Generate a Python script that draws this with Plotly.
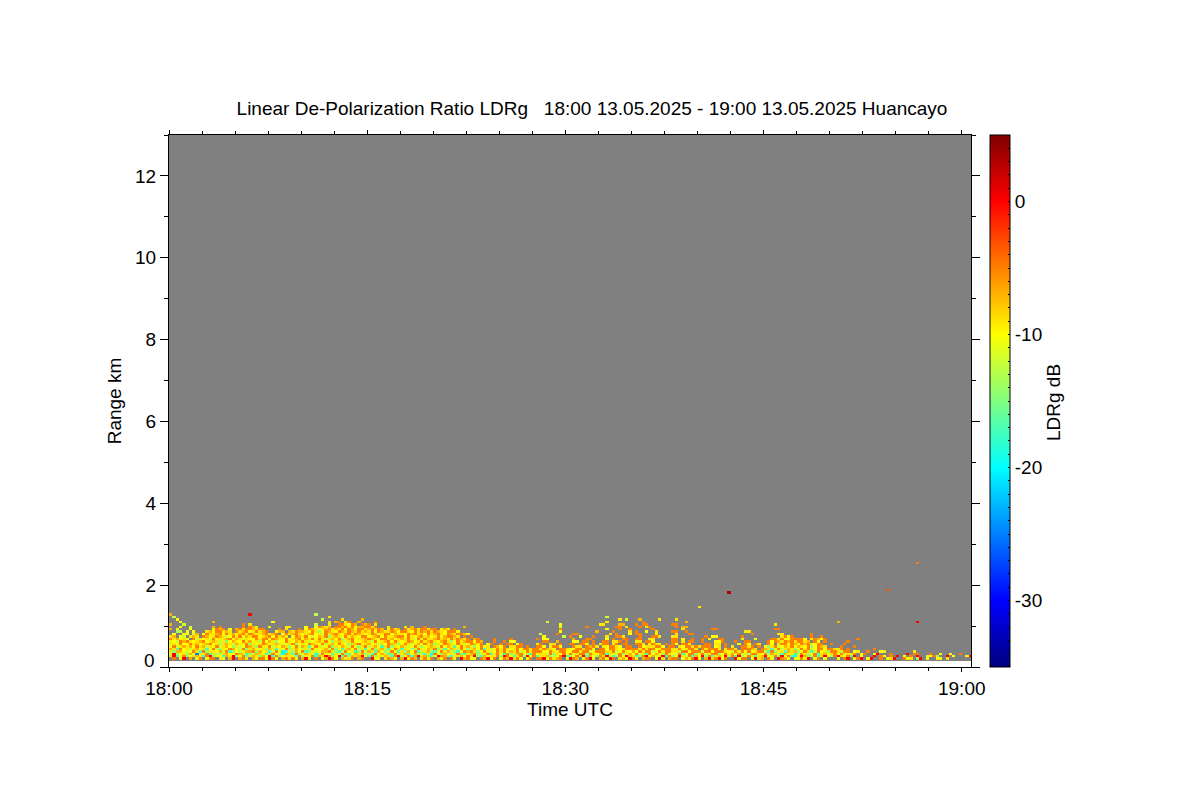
import numpy as np
import plotly.graph_objects as go

TITLE = "Linear De-Polarization Ratio LDRg\u00a0\u00a0\u00a018:00 13.05.2025 - 19:00 13.05.2025 Huancayo"
CB_TITLE = "LDRg dB"
X_TICK_MIN = [0, 15, 30, 45, 60]
X_TICK_TEXT = ["18:00", "18:15", "18:30", "18:45", "19:00"]
Y_TICKS = [0, 2, 4, 6, 8, 10, 12]
Y_TICK_TEXT = ["", "2", "4", "6", "8", "10", "12"]
CB_LABELS = {0: "0", -10: "-10", -20: "-20", -30: "-30"}

COL_MIN = 0.25
GATE_KM = 0.06
FIRST_GATE_KM = 0.20
N_COLS = 243
N_GATES = 42

# LDRg class, in dB
LEVELS = {"b": -25, "c": -20, "t": -17, "g": -14, "l": -12, "y": -10, "Y": -9, "o": -7, "O": -5, "r": -1.5, "R": 0}

# one string per range gate, top gate first, time runs left to right in groups of 10 profiles
GATES_TOP_DOWN = [
"o......... .......... ....R..... .......... .......... .......... .......... .......... .......... .......... .......... .......... .......... .......... .......... .......... .......... .......... .......... .......... .......... .......... .......... ..........",
".l........ .......... .......... .......... ........Y. .......... .......... .......... .......... .......... .......... .......... .......... ..l....... .......... .......... .......... .......... .......... .......... .......... .......... .......... ..........",
"..y....... .......... .......... .......... ......l... ..Y.....o. .......... .......... .......... .......... .......... .......... .......... ......Y.l. ..o.....Y. ...Y...... .......... .......... .......... .......... .......... .......... .......... ..........",
"...y...... ...o...... .......... .y........ ........Y. oO.YO..o.. ..O....... .......... .......... .......... .......... ....l..... .......... ..Y....... ...O...... ......o... .......... .......... .......... .......... .......... .......... .......... ..........",
"o...l..... .......... ..O.Y..... .......... ....l...Y. .OOYyOo.Oo O.Y....... .......... .......... .......... .......... ........y. .......... YY....oo.. .O.OO..... ..OO...... .......... .......... ...Y...... .......... .......... .......... .......... ..........",
"...y..l... ...o.O.... ..O.OoY... Y....YY... .y..yOoYo. OOoOYOyooO OYO...Y... .Y.o...O.. .........o .......... .......... ........l. ......O... .....OO.Y. ..O.YO.... ...O.oo... .......... .......... .......... .......... .......... .......... .......... ..........",
"o.y...y... ...YOoO.y. oOYOOoYOO. ...O.Y...O .yOoYyYoOY oYOyOoyOOY oOYOo.YOYo .OYoOYOOYO O.YoY.O... .......... .......... ........O. .......... ..y...O..O ......O... .....Y.... ....OO.... .......... ...OO..... .......... .......... .......... .......... ..........",
"..gl.y.y.. .YoyOOYoY. OYoOyYOYoO ..yoo.oYOo oYyOYgyOoY yOoYOoYOYo YOyOoYYOoy OOYyOYOoOY OoYyOOOy.. .......... .......... ........y. .........o ....O....Y .O..y..Y.. ..OO..O... .......... ....YY.... .......... .......... .......... .......... .......... ..........",
".y..yy.lo. yOYYoOyOYo yoOYOoyYoO YoO.yOYoOY yYoOyYlOYo OYyoOYOoYy YOoyYOOyoY YyOoOYoyOY oOYyOoYOOo y......... .......... ..l....O.. ..OO...... ...Y.O...y .OO....Y.. ...Y...OO. .......... ......O... ....YY.... ....O..... .......... .......... .......... ..........",
"Yo.yl.YoY. OoyYOoYlyO YOyoYOOyYo OyOYoY.yOo YOylyoYOgY oYyOYoYyOO yYoOyOYYoO OyOYyoOYoy YOyoOOoY.O .O........ .......... ...y.....l .O..y...O. ..Y..OOY.. ..O...OOY. ..YY...... ..O.yy.... ...O...... .....YOyO. ....O..O.. .......... .......... .......... ..........",
"OYoyYy.OlY yYlOyYYoOy oYlYyyOYOO yOoYyOyYoO yoYOyOYlYo yOgYoOyYYo OoYyOOYoyY oYOYlOyOYY oOYoyOYOoY O.oO....O. ...O...... .O.yy..... ..o...OO.. ..y.O..OO. .OO..YY... ..OO.y..O. .O.y..OO.. ...Y...y.. ..OOYOyyOO OOy.YOoyO. ........O. .......... .......... ..........",
"YylOoOYyYo OyYoYlYgyo YyOYoyYlOy oYgyyOYyoY OYlyYoYOyg YoYlYOyyYo YlOyYoOyOY yYOoyYOYoO YyoOYgyOYo OOyOo...O. .O.yy..... ...OO..o.. ..yy.OO.O. .OO.YYO.O. .YY.OOy... ..OO.Y.OO. .O...yyO.. .O..OO.... .OyOoYOoOY OOYo.Oy.O. .....O.... .......... .......... ..........",
"lYyOyyOYoy YoOyYgYoYl oYyOgYyYOo yYoYlyYOgy YyOoYyOlYo yOYygYoOYY oyYlYyOoYg yOYlYoyOYo gYyOoYyOYl yOoYO.yO.. O.OO.yO... .YO..YY.O. .OO.OOY.O. YOO.YO.OO. .OOY.YOYY. O.Oy.OOY.. ..OO.YY.O. ..y.Oy.OY. .Oy.YOOyOo yOoOYyOO.. O...O..... .......... .......... ..........",
"yOlYoYoyOY olYyOlYoyg YlyOoYgOYy OlYyoYgyOl oYtyOYlyOg YyoYlOygYO lYoytYOgYy oYlyOYgyYo YlOyoYtyOY oYgyOyY.Oo yO.YYOO.O. .OOy.YOOy. ..OYY.OoOY .YyOOYy.OO ..OyYYYOOy .OO.YyOOYO YOOO.yY.O. Y..OOYO.O. ygYOlyoYOy oYyOgyOoY. ...O...O.. .......... .......... ..........",
"oYtOyYlYoy YtyOlgYyOo ylOgYoyyYg oYtlyOgYoy lYgOyyYolO gytYoyOlYt yOgYoltyOY tYyglOYyoY OgYtyoYlOy gYoyOtYlyO YOYyYOyOOY OOYOoYy.OO YyyOOYOOy. OOyOOYyYOO OOYOYOOyyO OOYYOyYOOY .OYOOOY.YO OY.OOOoY.O oYtyOlYoYg yOYOlyOOyO OYYO.O.... ...O...... .......... ..........",
"YgooylyOYt OgYYyolOtg ylYooOgoyY tlOyctYgoy OtgYlyooOY gtlOyYtgOl oYtoyglOyt YgoyOtlYog tyOYolgtyO oOYgyOYlyO YOyoYOlyOY OOOyyOYYOO yyOOYOOlyO OOYYOlyOYy oyOYOOlyOY OOYYlOOyOO OlOOyOOOYy lOYOyOyYOO ltOgyYtoYo gyOYtlOyYg OOYlOO.yY. .O...yY... .....Y.... .......... ..........",
"lRgyYgoybY yOtYglYoyy OoYtgloYyt gOylcoYtOg yoYltgOyyt YlOgtyoYog ltOyoYtgOl YotyogltYc OygoyYlOgt YoOglyOtYO ytOgYoOylt OyYYlOgYyO yOlYOOgOYy oOtYylOgYo yOlYtOyoYg OYylOtyOOg yOlYOOgyOY oyOlYgOOYy OgoYltoyYt lOYgyOtYoy YOyOlYYO.y O..yR...O. ...R.OO... O..y..y..O .....y....",
"YRtyOgyYoY tORgyytoYR gyOtYoYgoy RtOgyYYytO gYyOtoYROg yRtOgoYoRy tOgYyoYtOR gyOtoRYogt yROogtYYoy OYRgtoyYYO gROytYOgRy OtYYoglyOR tgyOYRtoyg OYRltgOyRo YtgORyolYR tOgyRYlOto yRgOtYoyRl OtRgyOYtYo RylOgRyOtc YRoglOtYRy gORYyOtR.y ...R.Oy.O. R.y.O.R..l yOg..R.y.. .yRR.OY..R",
".O.yR.o.yO .yOO.Yy.oR .oOY.oyOOy ROy.oOYOy. oRy.O.yoRO y.oYYO.oO. .Ryy.YOoy. oRyOo.YOyO .oyO.Oy.Ro Oyy.OoRyO. yOoRYOy.yO .OORyOYoO. yROo.yORy. oOyRO.YoyR Oy.oOO.yRY .oOO.yoyOR y.oRYORyO. .RyOO.yRYo .Oy.ROoy.y yOyR.yO.y. ..y.OR.yOR .yR..O.yYR ..OyY.gR.y ..yy.Y..",
]

# isolated echoes above the main layer
ISO_MIN = [40.1, 42.3, 50.5, 54.4, 56.7, 56.7, 11.0]
ISO_KM = [1.46, 1.80, 1.07, 1.85, 2.55, 1.10, 1.28]
ISO_DB = [-9.0, 3.0, -7.0, -3.0, -5.0, 0.0, -13.0]

TOP_KM = 13
FLOOR_KM = 0.147

z = np.full((N_GATES, N_COLS), np.nan)
for i, text in enumerate(GATES_TOP_DOWN):
    row = len(GATES_TOP_DOWN) - 1 - i
    for c, ch in enumerate("".join(text.split())[:N_COLS]):
        if ch in LEVELS:
            z[row, c] = LEVELS[ch]
for m, km, db in zip(ISO_MIN, ISO_KM, ISO_DB):
    z[int(round((km - FIRST_GATE_KM) / GATE_KM)), int(m / COL_MIN)] = db

times = (np.arange(N_COLS) + 0.5) * COL_MIN
gates = FIRST_GATE_KM + np.arange(N_GATES) * GATE_KM

JET = [[0, "#00007f"], [0.125, "#0000ff"], [0.375, "#00ffff"], [0.5, "#80ff80"],
       [0.625, "#ffff00"], [0.875, "#ff0000"], [1, "#7f0000"]]

cb_vals = list(range(-35, 6))
cb_text = [CB_LABELS.get(v, "") for v in cb_vals]

FONT = "Liberation Sans"
SIZE = 19
TEXT = dict(family=FONT, size=SIZE, color="black")
fig = go.Figure(go.Heatmap(
    x=times, y=gates, z=z, zmin=-35, zmax=5, colorscale=JET, hoverongaps=False,
    colorbar=dict(
        x=1.0237, xanchor="left", y=0, yanchor="bottom", len=1, lenmode="fraction",
        thickness=20, thicknessmode="pixels", outlinecolor="black", outlinewidth=1,
        tickmode="array", tickvals=cb_vals, ticktext=cb_text, ticks="inside", ticklen=2,
        tickcolor="black", tickfont=TEXT, xpad=0, ypad=0,
    ),
))

axis = dict(showline=True, linecolor="black", linewidth=1, mirror="ticks", ticks="outside",
            tickcolor="black", showgrid=False, zeroline=False, tickfont=TEXT)
fig.update_xaxes(
    range=[0, 60.7], tickmode="array", tickvals=X_TICK_MIN, ticktext=X_TICK_TEXT, ticklen=4,
    minor=dict(ticks="outside", tick0=0, dtick=2.5, ticklen=3, tickcolor="black", showgrid=False),
    title=dict(text="Time UTC", font=TEXT, standoff=1), **axis)
fig.update_yaxes(
    range=[0, TOP_KM], tickmode="array", tickvals=Y_TICKS, ticktext=Y_TICK_TEXT, ticklen=8,
    minor=dict(ticks="outside", tick0=0, dtick=1, ticklen=4, tickcolor="black", showgrid=False),
    title=dict(text="Range km", font=TEXT, standoff=8), **axis)

fig.update_layout(
    width=1200, height=800, autosize=False,
    margin=dict(l=169, r=229, t=135, b=133, pad=0),
    paper_bgcolor="white", plot_bgcolor="#808080",
    title=dict(text=TITLE, x=592 / 1200, xanchor="center", y=1 - 108 / 800, yanchor="middle", font=TEXT),
    shapes=[dict(type="rect", xref="x domain", x0=0, x1=1, yref="y", y0=0, y1=FLOOR_KM,
                 fillcolor="white", line_width=0, layer="below")],
    annotations=[
        dict(text="0", xref="paper", x=0, xshift=-12, xanchor="right", yref="y", y=FLOOR_KM,
             yanchor="middle", showarrow=False, font=TEXT),
        dict(text=CB_TITLE, xref="paper", x=(1053 - 169) / 802, xanchor="center", yref="paper",
             y=(667 - 403) / 532, yanchor="middle", textangle=-90, showarrow=False, font=TEXT),
    ],
)
fig.write_html("out.html", config={"displayModeBar": False},
               post_script="document.body.style.margin='0';")
